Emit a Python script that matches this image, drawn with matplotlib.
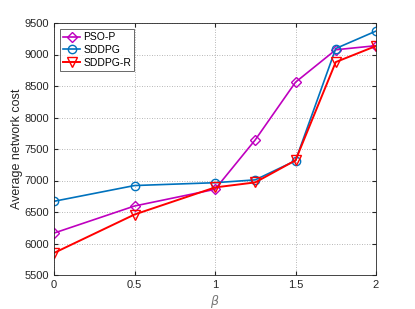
import matplotlib
matplotlib.use("Agg")
import matplotlib.pyplot as plt

beta = [0, 0.5, 1, 1.25, 1.5, 1.75, 2]
pso_p = [6165, 6595, 6860, 7645, 8560, 9075, 9140]
sddpg = [6670, 6920, 6965, 7010, 7315, 9095, 9372]
sddpg_r = [5850, 6460, 6890, 6970, 7320, 8880, 9135]
xticks = [0, 0.5, 1, 1.5, 2]
yticks = [5500, 6000, 6500, 7000, 7500, 8000, 8500, 9000, 9500]

plt.rcParams['font.family'] = ['Liberation Sans', 'DejaVu Sans']
fig = plt.figure(figsize=(4.15, 3.09), dpi=100)
ax = fig.add_axes([54/415, 34/309, 322/415, 252/309])

ax.plot(beta, pso_p, color='#BF00BF', marker='D', markersize=5.5, mfc='none',
        mew=1.0, lw=1.2, label='PSO-P')
ax.plot(beta, sddpg, color='#0072BD', marker='o', markersize=6, mfc='none',
        mew=1.0, lw=1.2, label='SDDPG')
ax.plot(beta, sddpg_r, color='#FF0000', marker='v', markersize=7, mfc='none',
        mew=1.0, lw=1.4, label='SDDPG-R')

ax.set_xlim(0, 2)
ax.set_ylim(5500, 9500)
ax.set_xticks(xticks)
ax.set_xticklabels(['0', '0.5', '1', '1.5', '2'])
ax.set_yticks(yticks)
ax.grid(True, linestyle=(0, (1, 2)), color='#777777', linewidth=0.6, alpha=0.7)
ax.tick_params(direction='in', labelsize=8, colors='#262626', length=3, top=True, right=True)
for s in ax.spines.values():
    s.set_color('#262626')
    s.set_linewidth(0.6)
ax.set_xlabel(r'$\beta$', fontsize=9, color='#777777', labelpad=2)
ax.set_ylabel('Average network cost', fontsize=9, color='#262626', labelpad=1)
leg = ax.legend(loc='upper left', fontsize=7.5, fancybox=False, edgecolor='#262626',
                handlelength=1.6, borderpad=0.3, labelspacing=0.25, handletextpad=0.3,
                borderaxespad=0.6)
leg.get_frame().set_linewidth(0.6)
fig.savefig('out.png', dpi=100)
